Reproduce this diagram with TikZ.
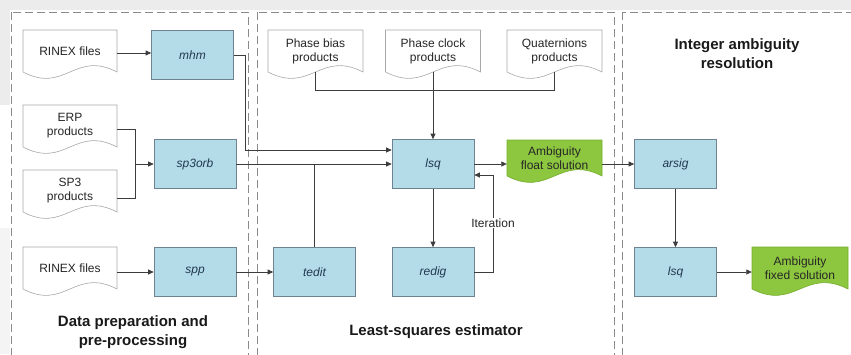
\documentclass[tikz,border=0pt]{standalone}
\usepackage{fontspec}
\setmainfont{Liberation Sans}
\usetikzlibrary{arrows.meta,calc}
\definecolor{boxfill}{HTML}{B4DCE8}
\definecolor{boxline}{HTML}{6E8290}
\definecolor{boxtext}{HTML}{22384F}
\definecolor{docline}{HTML}{A8A8A8}
\definecolor{greenfill}{HTML}{8DC63F}
\definecolor{greenline}{HTML}{76AD30}
\definecolor{bggray}{HTML}{ECECEC}
\definecolor{dashgray}{HTML}{8A8A8A}
\definecolor{linegray}{HTML}{3C3C3C}
\tikzset{
 proc/.style={draw=boxline, fill=boxfill, line width=0.7pt, minimum width=82pt, minimum height=49pt, inner sep=0pt, font=\fontsize{12}{14}\selectfont\itshape, text=boxtext},
 docnode/.style={minimum width=94pt, minimum height=42pt, inner sep=0pt, align=center, font=\fontsize{12}{14}\selectfont, text=black!85},
 docpath/.style={draw=docline, line width=0.6pt, fill=white},
 greenpath/.style={draw=greenline, line width=0.6pt, fill=greenfill},
 group/.style={draw=dashgray, line width=0.8pt, dash pattern=on 8pt off 4pt},
 conn/.style={draw=linegray, line width=0.7pt},
 arr/.style={conn, -{Triangle[length=5.5pt,width=5pt]}},
 lbl/.style={font=\fontsize{12}{14}\selectfont, text=black!85, inner sep=1pt},
 title/.style={font=\fontsize{15}{19}\selectfont\bfseries, align=center, text=black!90},
}
% name, x, y, w, h, path style, text
\newcommand\docnode[7]{%
 \draw[#6] (#2-#4/2,#3-#5/2) -- (#2+#4/2,#3-#5/2) -- (#2+#4/2,#3+#5/2)
   .. controls (#2+0.05*#4,#3+#5/2-22) and (#2-0.05*#4,#3+#5/2+22) .. (#2-#4/2,#3+#5/2) -- cycle;
 \node[docnode, minimum width=#4pt, minimum height=#5pt] (#1) at (#2,#3) {#7};}
\begin{document}
\begin{tikzpicture}[x=1pt,y=-1pt]
\useasboundingbox (0,0) rectangle (851,354);
\clip (0,0) rectangle (851,354);
% screenshot background
\fill[bggray] (0,0) rectangle (851,10);
\fill[bggray] (0,0) rectangle (10,105);
\fill[bggray!60] (0,228) rectangle (10,354);
% groups
\draw[group] (11,12) rectangle (248,380);
\draw[group] (257,12) rectangle (614,380);
\draw[group] (622,12) rectangle (880,380);
% documents
\docnode{rin1}{70}{51}{94}{42}{docpath}{RINEX files}
\docnode{erp}{70}{126}{94}{42}{docpath}{ERP\\products}
\docnode{sp3}{70}{191}{94}{42}{docpath}{SP3\\products}
\docnode{rin2}{70}{268}{94}{42}{docpath}{RINEX files}
\docnode{pb}{315.5}{51}{95}{42}{docpath}{Phase bias\\products}
\docnode{pc}{433}{51}{95}{42}{docpath}{Phase clock\\products}
\docnode{qp}{554.5}{51}{95}{42}{docpath}{Quaternions\\products}
\docnode{float}{554.5}{158}{95}{36}{greenpath}{Ambiguity\\float solution}
\docnode{fixed}{800}{268}{96}{42}{greenpath}{Ambiguity\\fixed solution}
% processes
\node[proc] (mhm) at (192.5,55) {mhm};
\node[proc] (sp3orb) at (195,164) {sp3orb};
\node[proc] (spp) at (195,272) {spp};
\node[proc] (tedit) at (314.5,272) {tedit};
\node[proc] (lsq) at (433,164) {lsq};
\node[proc] (redig) at (433,272) {redig};
\node[proc] (arsig) at (675.5,164) {arsig};
\node[proc] (lsq2) at (675.5,272) {lsq};
% titles
\node[title] (t1) at (133,332) {Data preparation and\\pre-processing};
\node[title] (t2) at (436,332) {Least-squares estimator};
\node[title] (t3) at (737,54) {Integer ambiguity\\resolution};
% connectors
\coordinate (j1) at (135,164);
\coordinate (j2) at (245,150);
\coordinate (j3) at (554.5,90);
\coordinate (it) at (493,175);
\draw[arr] (rin1.east |- 0,53) -- (mhm.west |- 0,53);
\draw[conn] ($(erp.east)+(0,3)$) -| (j1);
\draw[conn] ($(sp3.east)+(0,7)$) -| (j1);
\draw[arr] (j1) -- (sp3orb.west);
\draw[arr] (mhm.east) -| (j2) -- (lsq.west |- j2);
\draw[arr] (sp3orb.east) -- (lsq.west);
\draw[conn] (tedit.north) -- (tedit.north |- lsq.west);
\draw[arr] (rin2.east |- spp.west) -- (spp.west);
\draw[arr] (spp.east) -- (tedit.west);
\draw[conn] (pb.south) |- (j3) -- (qp.south);
\draw[arr] (pc.south) -- (lsq.north);
\draw[arr] (lsq.east) -- (float.west |- lsq.east);
\draw[arr] (lsq.south) -- (redig.north);
\draw[arr] (redig.east) -| (it) -- (lsq.east |- it);
\node[lbl, fill=white] (iter) at (493,223) {Iteration};
\draw[arr] (float.east |- arsig.west) -- (arsig.west);
\draw[arr] (arsig.south) -- (lsq2.north);
\draw[arr] (lsq2.east) -- (fixed.west |- lsq2.east);
\end{tikzpicture}
\end{document}
